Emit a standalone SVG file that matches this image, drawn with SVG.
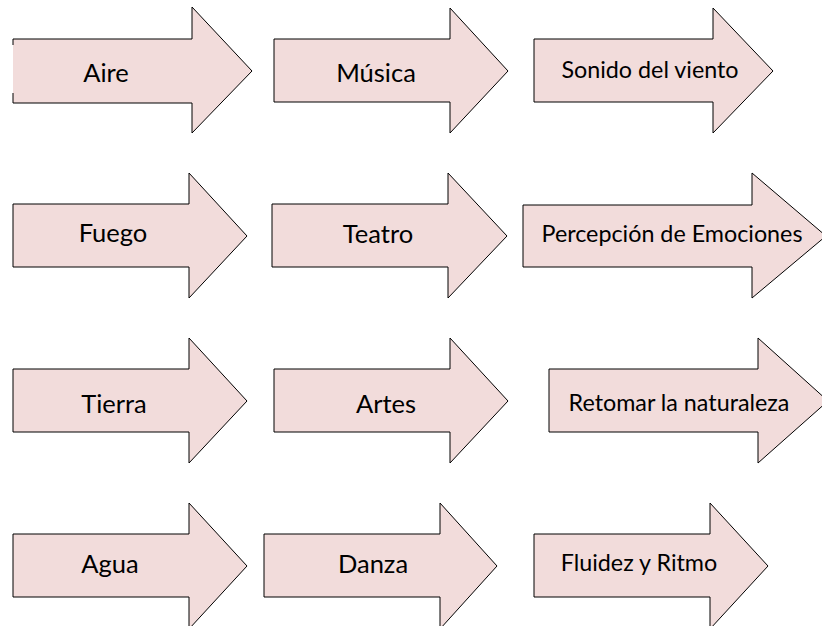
<svg xmlns="http://www.w3.org/2000/svg" width="822" height="626" viewBox="0 0 822 626">
<style>
.a{fill:#F2DCDB;stroke:#000;stroke-width:1;stroke-linejoin:miter}
.f{fill:#F2DCDB;stroke:none}
.o{fill:none;stroke:#000;stroke-width:1}
.t{font-family:Lato,"Open Sans","Liberation Sans",sans-serif;fill:#000;text-anchor:middle}
.L{font-size:25.5px}
.S{font-size:23.3px}
</style>
<rect width="822" height="626" fill="#fff"/>
<g id="aire">
<polygon class="f" points="13,39 192,39 192,7 252,71 192,133 192,103 13,103"/>
<path class="o" d="M13,45 L13,39 L192,39 L192,7 L252,71 L192,133 L192,103 L13,103 L13,93"/>
<text class="t L" x="106" y="82">Aire</text>
</g>
<g id="musica">
<polygon class="a" points="274,39 450,39 450,8 508,71 450,133 450,102 274,102"/>
<text class="t L" x="376" y="82">Música</text>
</g>
<g id="sonido">
<polygon class="a" points="534,39 713,39 713,8 773,71 713,133 713,102 534,102"/>
<text class="t S" x="650" y="78">Sonido del viento</text>
</g>
<g id="fuego">
<polygon class="a" points="13,204 189,204 189,173 247,236 189,298 189,267 13,267"/>
<text class="t L" x="113" y="242">Fuego</text>
</g>
<g id="teatro">
<polygon class="a" points="272,204 448,204 448,173 507,236 448,298 448,267 272,267"/>
<text class="t L" x="378" y="243">Teatro</text>
</g>
<g id="percepcion">
<polygon class="a" points="523,205 752,205 752,173 826,236 752,298 752,267 523,267"/>
<text class="t S" x="672" y="242">Percepción de Emociones</text>
</g>
<g id="tierra">
<polygon class="a" points="13,369 189,369 189,338 247,401 189,463 189,432 13,432"/>
<text class="t L" x="114" y="413">Tierra</text>
</g>
<g id="artes">
<polygon class="a" points="274,369 450,369 450,338 508,401 450,463 450,432 274,432"/>
<text class="t L" x="386" y="413">Artes</text>
</g>
<g id="retomar">
<polygon class="a" points="549,369 758,369 758,338 828,401 758,463 758,432 549,432"/>
<text class="t S" x="679" y="411">Retomar la naturaleza</text>
</g>
<g id="agua">
<polygon class="a" points="13,534 189,534 189,503 247,566 189,629 189,597 13,597"/>
<text class="t L" x="110" y="573">Agua</text>
</g>
<g id="danza">
<polygon class="a" points="264,534 440,534 440,503 497,566 440,629 440,597 264,597"/>
<text class="t L" x="373" y="573">Danza</text>
</g>
<g id="fluidez">
<polygon class="a" points="534,534 710,534 710,503 768,566 710,629 710,597 534,597"/>
<text class="t S" x="639" y="571">Fluidez y Ritmo</text>
</g>
</svg>
